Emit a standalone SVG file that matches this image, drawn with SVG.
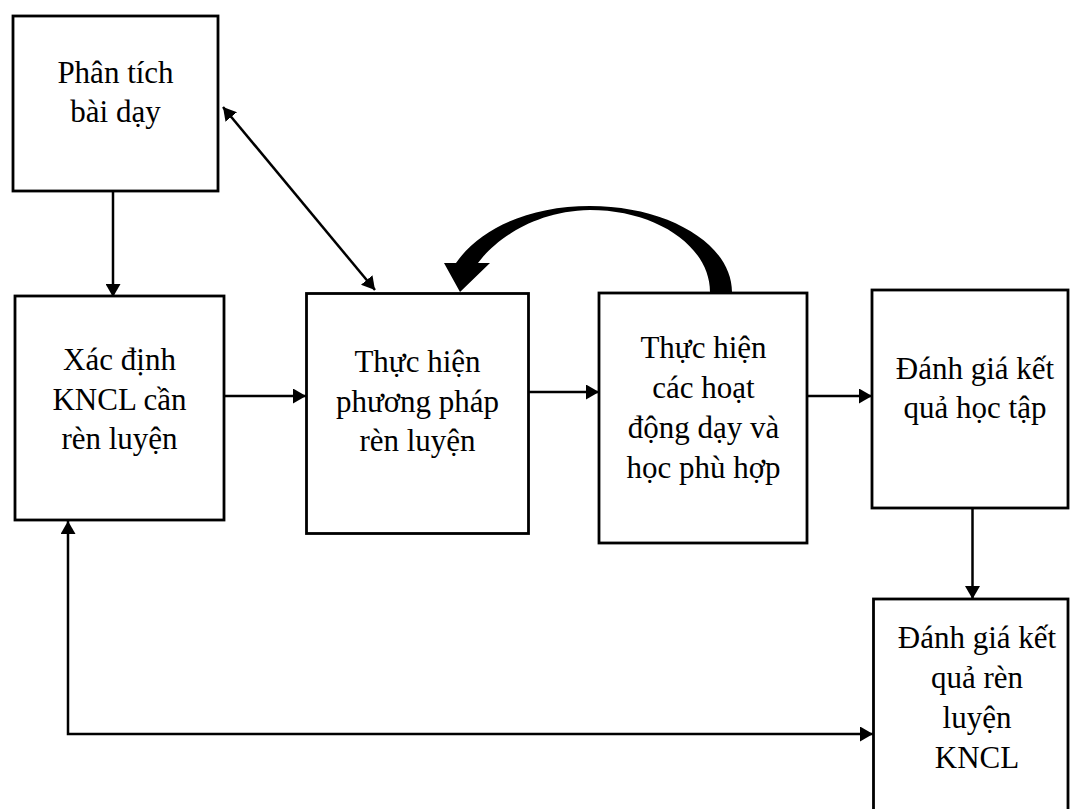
<svg xmlns="http://www.w3.org/2000/svg" width="1070" height="809" viewBox="0 0 1070 809">
<defs>
<style>
.box{fill:#fff;stroke:#000;stroke-width:2.8}
.lbl{font-family:"Liberation Serif","Times New Roman",serif;font-size:31px;fill:#000;text-anchor:middle}
.con{fill:none;stroke:#000;stroke-width:2.5}
</style>
<marker id="ah" viewBox="0 0 13 15" refX="13" refY="7.5" markerWidth="13" markerHeight="15" markerUnits="userSpaceOnUse" orient="auto-start-reverse"><path d="M0,0 L13,7.5 L0,15 Z" fill="#000"/></marker>
</defs>
<rect width="1070" height="809" fill="#fff"/>

<g id="connectors">
<line class="con" x1="113" y1="191" x2="113" y2="297" marker-end="url(#ah)"/>
<line class="con" x1="223" y1="107" x2="375" y2="290" marker-start="url(#ah)" marker-end="url(#ah)"/>
<line class="con" x1="224" y1="396" x2="306" y2="396" marker-end="url(#ah)"/>
<line class="con" x1="529" y1="392" x2="599" y2="392" marker-end="url(#ah)"/>
<line class="con" x1="807" y1="396" x2="872" y2="396" marker-end="url(#ah)"/>
<line class="con" x1="972.5" y1="508" x2="972.5" y2="599" marker-end="url(#ah)"/>
<polyline class="con" points="68,521 68,734 873,734" marker-start="url(#ah)" marker-end="url(#ah)"/>
<path id="curved-arrow" fill="#000" d="M732,292 C732,244 668,206 590,206 C530,206 480,228 456,263 L444,263 L460,292 L490,263 L478,263 C492,244 530,211 590,210 C656,210 710,246 710,292 Z"/>
</g>

<g id="n1">
<rect class="box" x="13" y="16" width="205" height="175"/>
<text class="lbl" x="115.5" y="83"><tspan x="115.5" y="83">Phân tích</tspan><tspan x="115.5" y="122">bài dạy</tspan></text>
</g>

<g id="n2">
<rect class="box" x="15" y="296" width="209" height="224"/>
<text class="lbl" x="119.5" y="370"><tspan x="119.5" y="370">Xác định</tspan><tspan x="119.5" y="409.5">KNCL cần</tspan><tspan x="119.5" y="449">rèn luyện</tspan></text>
</g>

<g id="n3">
<rect class="box" x="306.5" y="293.5" width="222" height="240"/>
<text class="lbl" x="417.5" y="372"><tspan x="417.5" y="372">Thực hiện</tspan><tspan x="417.5" y="411.5">phương pháp</tspan><tspan x="417.5" y="451">rèn luyện</tspan></text>
</g>

<g id="n4">
<rect class="box" x="599" y="293" width="208" height="250"/>
<text class="lbl" x="703.5" y="358"><tspan x="703.5" y="358">Thực hiện</tspan><tspan x="703.5" y="398">các hoạt</tspan><tspan x="703.5" y="438">động dạy và</tspan><tspan x="703.5" y="478">học phù hợp</tspan></text>
</g>

<g id="n5">
<rect class="box" x="872" y="290" width="196" height="218"/>
<text class="lbl" x="975" y="379"><tspan x="975" y="379">Đánh giá kết</tspan><tspan x="975" y="418">quả học tập</tspan></text>
</g>

<g id="n6">
<rect class="box" x="873.5" y="599" width="194.5" height="220"/>
<text class="lbl" x="977" y="648"><tspan x="977" y="648">Đánh giá kết</tspan><tspan x="977" y="688">quả rèn</tspan><tspan x="977" y="728">luyện</tspan><tspan x="977" y="768">KNCL</tspan></text>
</g>
</svg>
